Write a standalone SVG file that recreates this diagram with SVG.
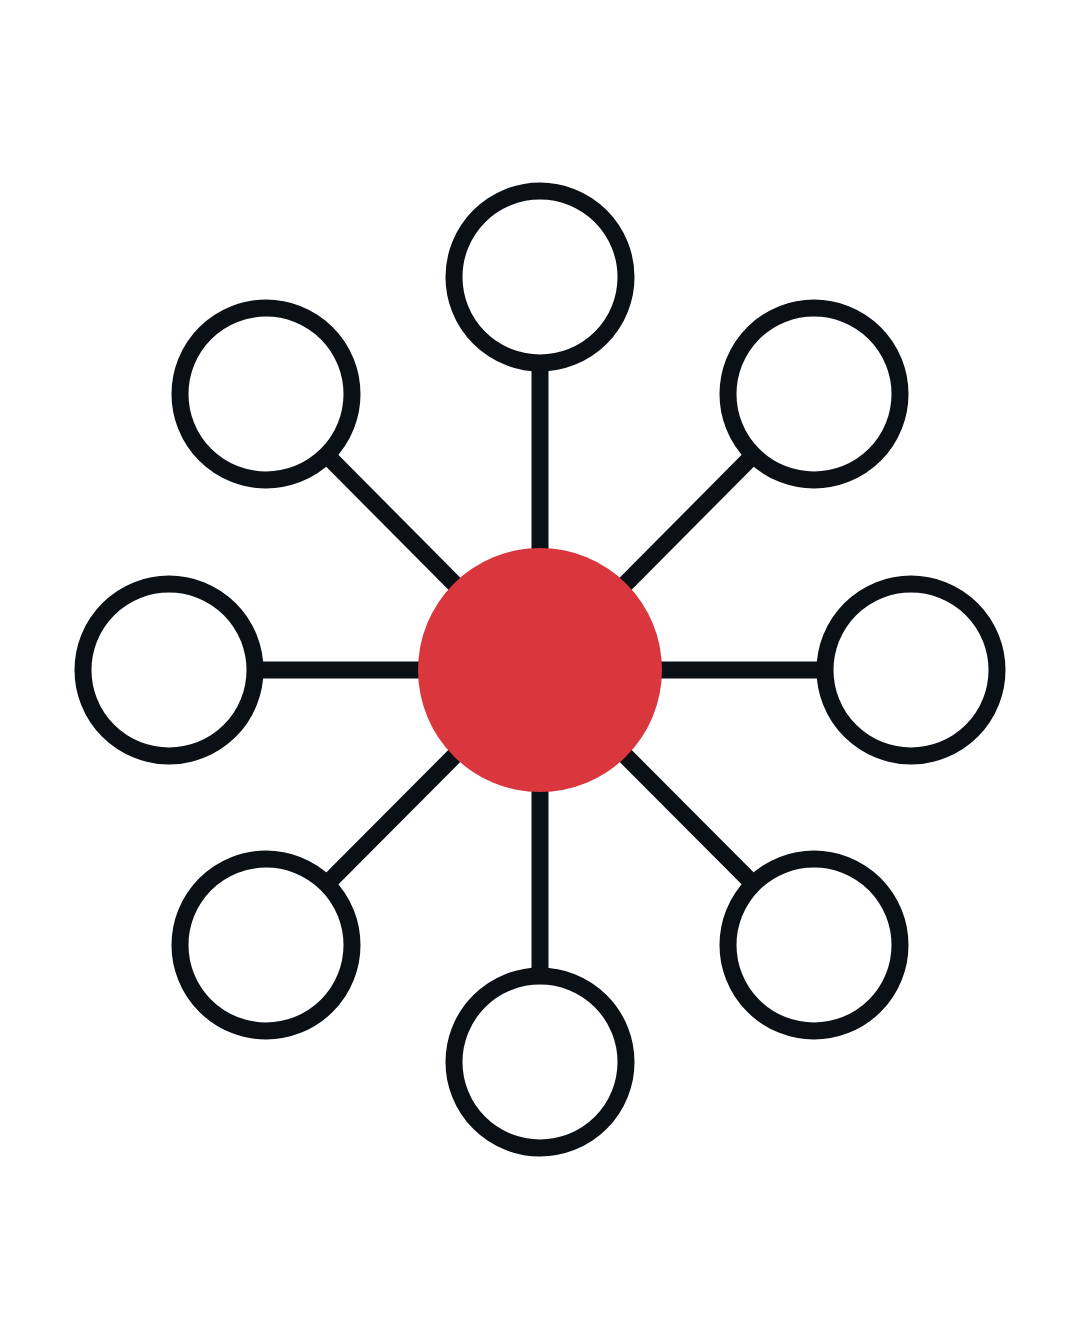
<svg xmlns="http://www.w3.org/2000/svg" width="1080" height="1341" viewBox="0 0 1080 1341">
<style>
.edge{stroke:#0b0f16;stroke-width:17;fill:none}
.leaf{fill:#ffffff;stroke:#0b0f16;stroke-width:17}
.hub{fill:#d9363e}
</style>
<rect width="1080" height="1341" fill="#ffffff"/>
<g id="connectors">
<line class="edge" x1="540" y1="670" x2="540" y2="277"/>
<line class="edge" x1="540" y1="670" x2="266" y2="394"/>
<line class="edge" x1="540" y1="670" x2="814" y2="394"/>
<line class="edge" x1="540" y1="670" x2="169" y2="670"/>
<line class="edge" x1="540" y1="670" x2="911" y2="670"/>
<line class="edge" x1="540" y1="670" x2="266" y2="945"/>
<line class="edge" x1="540" y1="670" x2="814" y2="945"/>
<line class="edge" x1="540" y1="670" x2="540" y2="1062"/>
</g>
<g id="node-top"><circle class="leaf" cx="540" cy="277" r="86"/></g>
<g id="node-top-left"><circle class="leaf" cx="266" cy="394" r="86"/></g>
<g id="node-top-right"><circle class="leaf" cx="814" cy="394" r="86"/></g>
<g id="node-left"><circle class="leaf" cx="169" cy="670" r="86"/></g>
<g id="node-right"><circle class="leaf" cx="911" cy="670" r="86"/></g>
<g id="node-bottom-left"><circle class="leaf" cx="266" cy="945" r="86"/></g>
<g id="node-bottom-right"><circle class="leaf" cx="814" cy="945" r="86"/></g>
<g id="node-bottom"><circle class="leaf" cx="540" cy="1062" r="86"/></g>
<g id="node-center"><circle class="hub" cx="540" cy="670" r="122"/></g>
</svg>
